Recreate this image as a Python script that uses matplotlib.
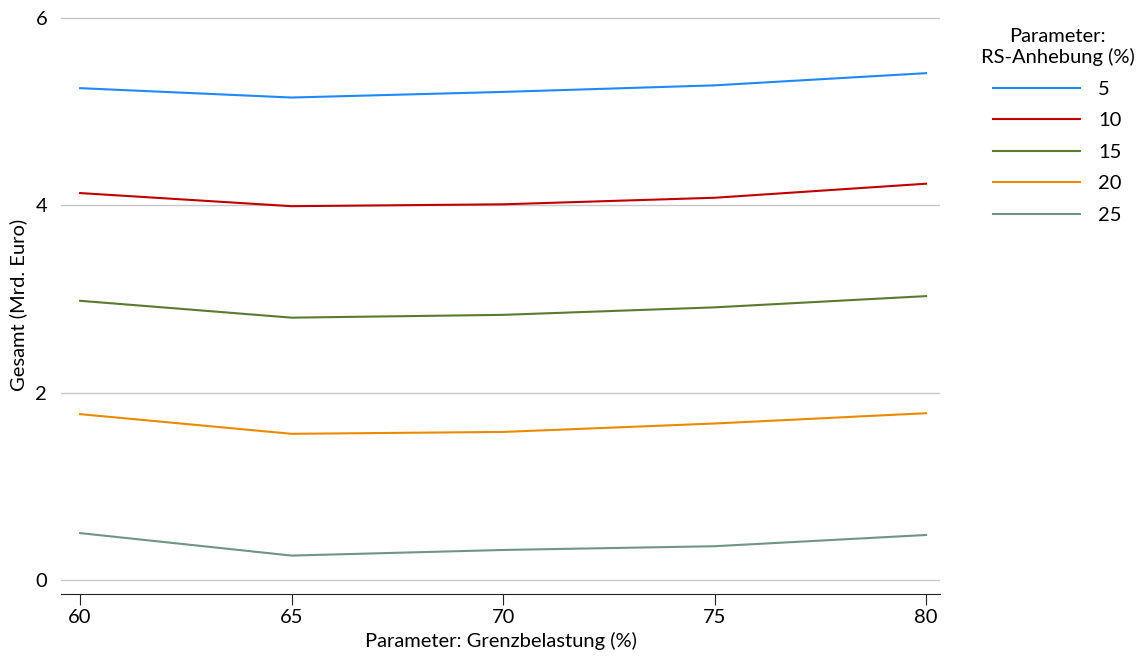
import matplotlib
matplotlib.use("Agg")
import matplotlib.pyplot as plt

# Daten
grenzbelastung = [60, 65, 70, 75, 80]
rs_anhebung = ["5", "10", "15", "20", "25"]
gesamt_5 = [5.25, 5.15, 5.21, 5.28, 5.41]
gesamt_10 = [4.13, 3.99, 4.01, 4.08, 4.23]
gesamt_15 = [2.98, 2.80, 2.83, 2.91, 3.03]
gesamt_20 = [1.77, 1.56, 1.58, 1.67, 1.78]
gesamt_25 = [0.50, 0.26, 0.32, 0.36, 0.48]

series = [gesamt_5, gesamt_10, gesamt_15, gesamt_20, gesamt_25]
colors = ["#1e88ff", "#c00000", "#5a7a30", "#ea8a00", "#6f9585"]

plt.rcParams['font.family'] = ['Lato', 'DejaVu Sans']
plt.rcParams['font.size'] = 14.5

fig = plt.figure(figsize=(11.39, 6.57), dpi=100)
ax = fig.add_axes([0.0536, 0.0959, 0.7717, 0.8797])

for vals, lab, col in zip(series, rs_anhebung, colors):
    ax.plot(grenzbelastung, vals, color=col, lw=1.5, label=lab)

ax.set_xlim(59.55, 80.33)
ax.set_ylim(-0.15, 6.02)
ax.set_xticks(grenzbelastung)
ax.set_yticks([0, 2, 4, 6])
ax.grid(axis='y', color='#c8c8c8', lw=1)
ax.set_axisbelow(True)
for s in ['top', 'right', 'left']:
    ax.spines[s].set_visible(False)
ax.spines['bottom'].set_color('#222222')
ax.tick_params(axis='y', length=0, pad=10)
ax.tick_params(axis='x', length=8, color='#222222', pad=3)
ax.set_xlabel("Parameter: Grenzbelastung (%)", labelpad=4)
ax.set_ylabel("Gesamt (Mrd. Euro)", labelpad=6)

leg = fig.legend(loc='upper left', bbox_to_anchor=(0.845, 0.985), frameon=False,
                 title="Parameter:\nRS-Anhebung (%)", handlelength=4.3,
                 handletextpad=0.9, labelspacing=0.72)
leg.get_title().set_multialignment('center')

fig.savefig("out.png", dpi=100)
